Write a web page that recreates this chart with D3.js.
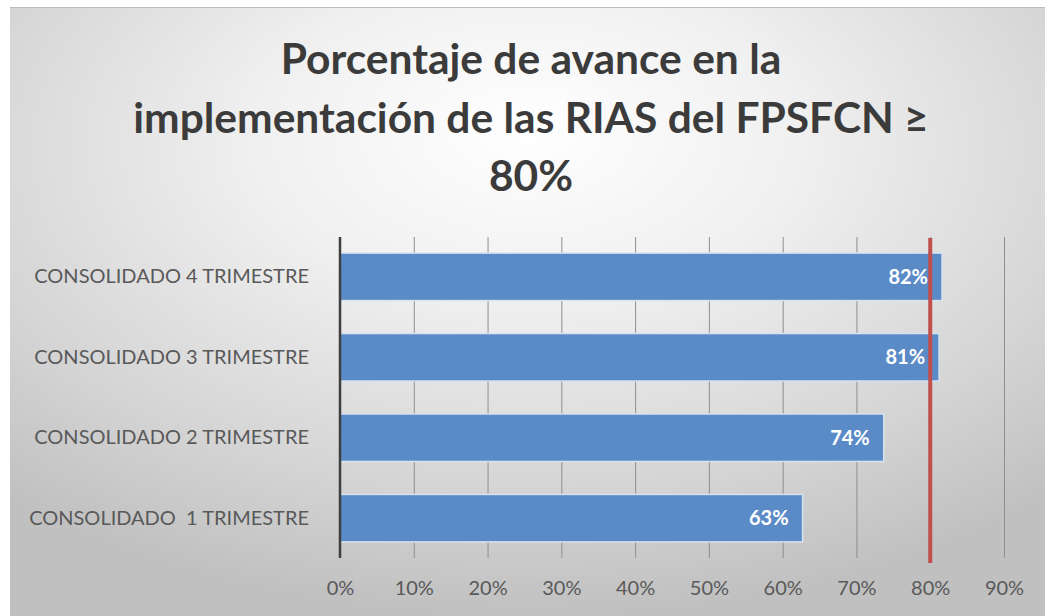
<!DOCTYPE html>
<html>
<head>
<meta charset="utf-8">
<script src="https://cdn.jsdelivr.net/npm/d3@7"></script>
<style>
  html, body { margin: 0; padding: 0; background: #fff; }
  svg { display: block; }
  text { font-family: Lato, "Open Sans", sans-serif; }
</style>
</head>
<body>
<svg id="chart" width="1045" height="616"></svg>
<script>
// data
var categories = ["CONSOLIDADO 4 TRIMESTRE", "CONSOLIDADO 3 TRIMESTRE", "CONSOLIDADO 2 TRIMESTRE", "CONSOLIDADO  1 TRIMESTRE"];
var values = [0.816, 0.812, 0.737, 0.627];
var xTicks = [0, 0.1, 0.2, 0.3, 0.4, 0.5, 0.6, 0.7, 0.8, 0.9];
var target = 0.8;
var titleLines = ["Porcentaje de avance en la", "implementación de las RIAS del FPSFCN ≥", "80%"];

var W = 1045, H = 616;
var svg = d3.select("#chart");

// background panel with radial gradient
var defs = svg.append("defs");
var grad = defs.append("radialGradient")
    .attr("id", "bg")
    .attr("cx", "50%").attr("cy", "25%").attr("r", "75%")
    .attr("fx", "50%").attr("fy", "20%");
grad.append("stop").attr("offset", "0%").attr("stop-color", "#ffffff");
grad.append("stop").attr("offset", "35%").attr("stop-color", "#f0f0f0");
grad.append("stop").attr("offset", "75%").attr("stop-color", "#d4d4d4");
grad.append("stop").attr("offset", "100%").attr("stop-color", "#c0c0c0");

svg.append("rect")
    .attr("x", 10).attr("y", 7)
    .attr("width", W - 10).attr("height", H - 7)
    .attr("fill", "url(#bg)");
svg.append("line")
    .attr("x1", 10).attr("x2", W)
    .attr("y1", 7.5).attr("y2", 7.5)
    .attr("stroke", "#bdbdbd").attr("stroke-width", 1);

// title
svg.append("g").selectAll("text")
    .data(titleLines)
  .enter().append("text")
    .attr("x", 531)
    .attr("y", function(d, i) { return 74 + i * 58.5; })
    .attr("text-anchor", "middle")
    .attr("font-size", 42.5)
    .attr("font-weight", "bold")
    .attr("fill", "#3b3b3b")
    .text(function(d) { return d; });

// scales
var x = d3.scaleLinear().domain([0, 0.9]).range([340, 1004]);
var y = d3.scaleBand().domain(categories).range([237, 558])
    .paddingInner(0.41).paddingOuter(0.2);

// gridlines
svg.append("g")
    .attr("transform", "translate(0,558)")
    .call(d3.axisBottom(x).tickValues(xTicks.slice(1)).tickSize(-321).tickFormat(""))
    .call(function(g) { g.select(".domain").remove(); })
    .selectAll("line")
    .attr("stroke", "#8e8e8e")
    .attr("stroke-width", 1);

// x tick labels
var xAxis = svg.append("g")
    .attr("transform", "translate(0,558)")
    .call(d3.axisBottom(x).tickValues(xTicks).tickSize(0).tickPadding(23).tickFormat(d3.format(".0%")));
xAxis.select(".domain").remove();
xAxis.selectAll("text")
    .attr("font-family", "Lato, 'Open Sans', sans-serif")
    .attr("font-size", 20)
    .attr("fill", "#595959");

// bars
svg.append("g").selectAll("rect")
    .data(values)
  .enter().append("rect")
    .attr("x", x(0))
    .attr("y", function(d, i) { return y(categories[i]); })
    .attr("width", function(d) { return x(d) - x(0); })
    .attr("height", y.bandwidth())
    .attr("fill", "#5b8bc7")
    .attr("stroke", "#d6e2f0")
    .attr("stroke-width", 1.5);

// value labels
svg.append("g").selectAll("text")
    .data(values)
  .enter().append("text")
    .attr("x", function(d) { return x(d) - 14; })
    .attr("y", function(d, i) { return y(categories[i]) + y.bandwidth() / 2; })
    .attr("dy", "0.36em")
    .attr("text-anchor", "end")
    .attr("font-size", 20)
    .attr("font-weight", "bold")
    .attr("fill", "#ffffff")
    .text(function(d) { return d3.format(".0%")(d); });

// y axis labels
var yAxis = svg.append("g")
    .attr("transform", "translate(340,0)")
    .call(d3.axisLeft(y).tickSize(0).tickPadding(31));
yAxis.select(".domain").remove();
yAxis.selectAll("text")
    .attr("font-family", "Lato, 'Open Sans', sans-serif")
    .attr("font-size", 20)
    .attr("fill", "#595959")
    .style("white-space", "pre");

// vertical axis line at 0%
svg.append("line")
    .attr("x1", x(0)).attr("x2", x(0))
    .attr("y1", 237).attr("y2", 558)
    .attr("stroke", "#3f3f3f")
    .attr("stroke-width", 2.5);

// target line at 80%
svg.append("line")
    .attr("x1", x(target)).attr("x2", x(target))
    .attr("y1", 238).attr("y2", 563)
    .attr("stroke", "#c0504d")
    .attr("stroke-width", 4);
</script>
</body>
</html>
